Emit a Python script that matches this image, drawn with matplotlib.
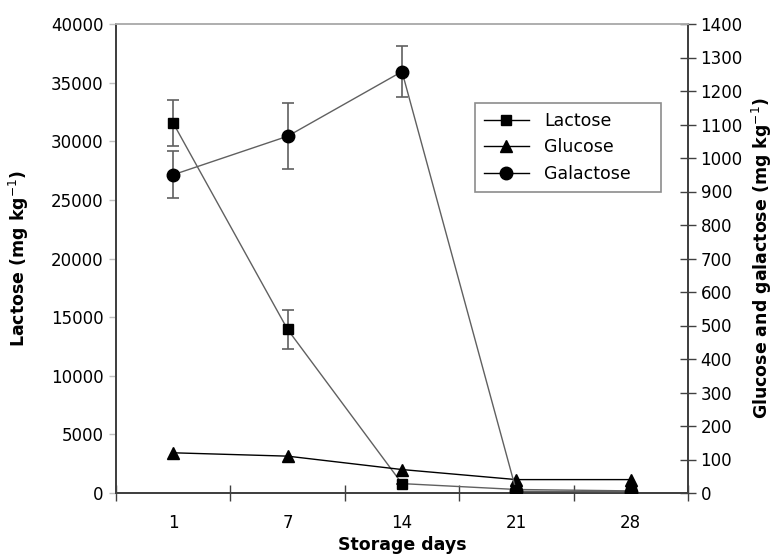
import matplotlib
matplotlib.use("Agg")
import matplotlib.pyplot as plt
from matplotlib.lines import Line2D
import numpy as np

plt.rcParams['font.family'] = ['DejaVu Sans']
plt.rcParams['mathtext.fontset'] = 'dejavusans'

# storage days and measured sugars (mg/kg)
days = ['1', '7', '14', '21', '28']
lactose = [31550, 13950, 800, 300, 180]
lactose_err = [1950, 1650, 0, 0, 0]
glucose = [120, 110, 70, 40, 40]
galactose = [950, 1065, 1258, 5, 4]
galactose_err = [70, 98, 76, 0, 0]

x = np.arange(len(days))
line_col = '#606060'
spine_col = '#404040'

fig = plt.figure(figsize=(7.75, 5.55), dpi=100)
ax = fig.add_axes([116/775, 62/555, (688-116)/775, (493-24)/555])
ax2 = ax.twinx()

ax.errorbar(x, lactose, yerr=lactose_err, color=line_col, lw=1, marker='s',
            ms=6.5, mfc='black', mec='black', ecolor=line_col, elinewidth=1.2,
            capsize=4, capthick=1.2, zorder=3)
ax2.plot(x, glucose, color='black', lw=1, marker='^', ms=9, mfc='black',
         mec='black', zorder=3)
ax2.errorbar(x, galactose, yerr=galactose_err, color=line_col, lw=1, marker='o',
             ms=9, mfc='black', mec='black', ecolor=line_col, elinewidth=1.2,
             capsize=4, capthick=1.2, zorder=3)

ax.set_xlim(-0.5, len(days) - 0.5)
ax.set_ylim(0, 40000)
ax2.set_ylim(0, 1400)
ax.set_yticks(np.arange(0, 40001, 5000))
ax2.set_yticks(np.arange(0, 1401, 100))

# category axis: tick marks between groups, labels at centres
ax.set_xticks(np.arange(-0.5, len(days), 1.0))
ax.set_xticklabels([])
ax.set_xticks(x, minor=True)
ax.set_xticklabels(days, minor=True)
ax.tick_params(axis='x', which='major', direction='inout', length=12,
               width=1, color=spine_col)
ax.tick_params(axis='x', which='minor', length=0, pad=15, labelsize=12)
ax.tick_params(axis='y', direction='out', length=5, width=1, color='#c0c0c0',
               labelsize=12, pad=4)
ax2.tick_params(axis='y', direction='inout', length=12, width=1,
                color=spine_col, labelsize=12, pad=3)

for a in (ax, ax2):
    for s in a.spines.values():
        s.set_color(spine_col)
        s.set_linewidth(1.3)
ax.spines['top'].set_color('#b0b0b0')
ax2.spines['top'].set_color('#b0b0b0')

ax.set_xlabel('Storage days', fontsize=12.5, fontweight='bold', labelpad=3)
ax.set_ylabel('Lactose (mg kg$^{-1}$)', fontsize=12.5,
              fontweight='bold', labelpad=14)
ax2.set_ylabel('Glucose and galactose (mg kg$^{-1}$)', fontsize=12.5,
               fontweight='bold', labelpad=5)

handles = [
    Line2D([], [], color='black', lw=1, marker='s', ms=6.5, mfc='black', mec='black'),
    Line2D([], [], color='black', lw=1, marker='^', ms=9, mfc='black', mec='black'),
    Line2D([], [], color='black', lw=1, marker='o', ms=9, mfc='black', mec='black'),
]
leg = ax2.legend(handles, ['Lactose', 'Glucose', 'Galactose'], loc='upper left',
                 bbox_to_anchor=((475-116)/572, (493-191)/469,
                                 (661-475)/572, (191-103)/469),
                 mode='expand', borderaxespad=0,
                 fontsize=12.5, frameon=True, fancybox=False, edgecolor='#707070',
                 handlelength=2.6, borderpad=0.5, labelspacing=0.5,
                 handletextpad=0.9)
leg.get_frame().set_linewidth(1.2)

fig.savefig('out.png', dpi=100)
